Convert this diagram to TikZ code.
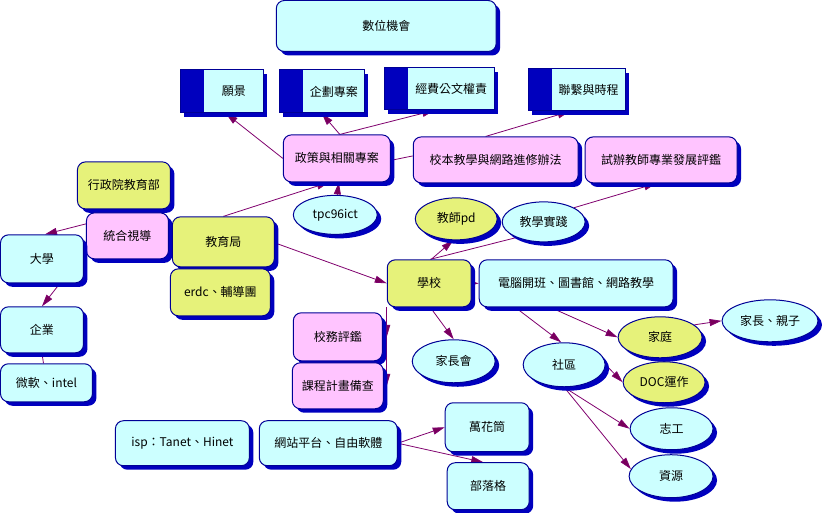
\documentclass[tikz,border=0pt]{standalone}
\usepackage{fontspec}
\setmainfont{Noto Sans CJK TC}
\usetikzlibrary{shapes.geometric,shadows,arrows.meta,backgrounds}
\definecolor{cyanfill}{RGB}{204,255,255}
\definecolor{pinkfill}{RGB}{255,196,255}
\definecolor{limefill}{RGB}{230,242,122}
\definecolor{edgec}{RGB}{0,0,150}
\definecolor{shadowc}{RGB}{0,0,190}
\definecolor{linec}{RGB}{128,0,110}
\definecolor{headc}{RGB}{120,0,90}
\begin{document}
\begin{tikzpicture}[x=1pt,y=-1pt,
  base/.style={draw=edgec, line width=1pt, inner sep=0pt,
    font=\fontsize{12}{14}\selectfont,
    drop shadow={shadow xshift=4pt, shadow yshift=-4pt, fill=shadowc, opacity=1}},
  rbox/.style={base, rectangle, rounded corners=8pt},
  oval/.style={base, ellipse},
  cy/.style={fill=cyanfill}, pk/.style={fill=pinkfill}, lm/.style={fill=limefill},
  band/.style={base, rectangle, fill=cyanfill,
    path picture={\fill[shadowc] (path picture bounding box.north west) rectangle ([xshift=24pt]path picture bounding box.south west);}},
  conn/.style={draw=linec, line width=0.8pt},
  arr/.style={conn, -{Triangle[length=12pt,width=7pt,fill=headc]}},
  sz/.style 2 args={minimum width=#1pt, minimum height=#2pt}
]
% nodes
\node[rbox,cy,sz={220}{51}] (top) at (386,26) {數位機會};
\node[band,sz={83}{43}] (v1) at (221.5,91.5) {\hspace*{24pt}願景};
\node[band,sz={85}{43}] (v2) at (321.5,91.5) {\hspace*{24pt}企劃專案};
\node[band,sz={110}{42}] (v3) at (439,89) {\hspace*{24pt}經費公文權責};
\node[band,sz={97}{42}] (v4) at (576.5,90) {\hspace*{24pt}聯繫與時程};

\node[rbox,pk,sz={107}{47}] (policy) at (336.5,158.5) {政策與相關專案};
\node[rbox,pk,sz={165}{46}] (sb) at (495.5,160) {校本教學與網路進修辦法};
\node[rbox,pk,sz={152}{46}] (trial) at (661,160) {試辦教師專業發展評鑑};
\node[oval,cy,sz={84}{39}] (tpc) at (335,215) {tpc96ict};

\node[rbox,lm,sz={93}{47}] (moe) at (123.5,185.5) {行政院教育部};
\node[rbox,pk,sz={82}{46}] (insp) at (127,236) {統合視導};
\node[rbox,lm,sz={102}{50}] (edu) at (223,242) {教育局};
\node[rbox,lm,sz={100}{47}] (erdc) at (220,292.5) {erdc、輔導團};

\node[rbox,cy,sz={83}{48}] (univ) at (41.5,259) {大學};
\node[rbox,cy,sz={83}{46}] (ent) at (41.5,330) {企業};
\node[rbox,cy,sz={92}{38}] (ms) at (46,383) {微軟、intel};

\node[rbox,pk,sz={89}{48}] (eval) at (337.5,337) {校務評鑑};
\node[rbox,pk,sz={91}{46}] (curr) at (337.5,386) {課程計畫備查};

\node[rbox,cy,sz={134}{45}] (isp) at (182,443.5) {isp：Tanet、Hinet};
\node[rbox,cy,sz={138}{45}] (web) at (328,443.5) {網站平台、自由軟體};
\node[rbox,cy,sz={84}{49}] (kal) at (487,427.5) {萬花筒};
\node[rbox,cy,sz={82}{47}] (blog) at (488,486.5) {部落格};

\node[rbox,lm,sz={84}{47}] (school) at (429,283.5) {學校};
\node[rbox,cy,sz={194}{47}] (comp) at (576,283.5) {電腦開班、圖書館、網路教學};
\node[oval,lm,sz={82}{42}] (pd) at (456,219) {教師pd};
\node[oval,cy,sz={83}{40}] (prac) at (543.5,222) {教學實踐};

\node[oval,cy,sz={83}{43}] (pta) at (453.5,361.5) {家長會};
\node[oval,cy,sz={82}{44}] (comm) at (564,365) {社區};
\node[oval,lm,sz={84}{41}] (home) at (660,337.5) {家庭};
\node[oval,lm,sz={82}{41}] (doc) at (664,382.5) {DOC運作};
\node[oval,cy,sz={96}{42}] (parent) at (770,321) {家長、親子};
\node[oval,cy,sz={83}{42}] (vol) at (671.5,429) {志工};
\node[oval,cy,sz={84}{43}] (res) at (671,476.5) {資源};

% connectors
\begin{scope}[on background layer]
\fill[white] (0,0) rectangle (822,513);
\draw[arr] (policy.west) -- ([xshift=4pt]v1.south);
\draw[arr] ([xshift=3pt]policy.north) -- (v2.south);
\draw[arr] ([xshift=3pt]policy.north) -- ([xshift=-5pt]v3.south);
\draw[arr] ([xshift=-10pt]sb.north) -- ([xshift=-7pt]v4.south);
\draw[conn] ([yshift=-2pt]policy.east) -- ([yshift=4pt]sb.west);
\draw[arr] (edu.north) -- ([xshift=-8pt]policy.south);
\draw[arr] ([xshift=2pt]tpc.north) -- ([xshift=2pt]policy.south);
\draw[arr] ([yshift=12pt]insp.west) -- ([xshift=3pt]univ.north);
\draw[arr] ([xshift=18pt]univ.south) -- (ent.north);
\draw[conn] (ent.south) -- ([xshift=-3pt]ms.north);
\draw[arr] (edu.west) -- ([xshift=-2pt,yshift=-3pt]insp.north east);
\draw[arr] ([yshift=-1pt]edu.east) -- (school.west);
\draw[arr] ([xshift=2pt]school.north) -- ([xshift=-3pt]pd.south);
\draw[conn] (prac.210) -- ([xshift=1pt]school.north);
\draw[arr] (prac.25) -- ([xshift=-5pt]trial.south);
\draw[arr] (school.south west) -- (school.south west |- eval.east);
\draw[arr] (school.south west) -- (school.south west |- curr.east);
\draw[arr] ([xshift=1pt]school.south) -- (pta.north);
\draw[arr] (school.east) -- (comp.west);
\draw[arr] ([xshift=-61pt]comp.south) -- ([xshift=-3pt]comm.north);
\draw[arr] ([xshift=-26pt]comp.south) -- (home.west);
\draw[arr] (home.20) -- (parent.west);
\draw[arr] (comm.east) -- (doc.west);
\draw[arr] (comm.south) -- (vol.west);
\draw[arr] (comm.south) -- (res.170);
\draw[arr] (web.east) -- (kal.west);
\draw[arr] (web.east) -- ([xshift=-5pt]blog.north);
\end{scope}
\useasboundingbox (0,0) rectangle (822,513);
\end{tikzpicture}
\end{document}
